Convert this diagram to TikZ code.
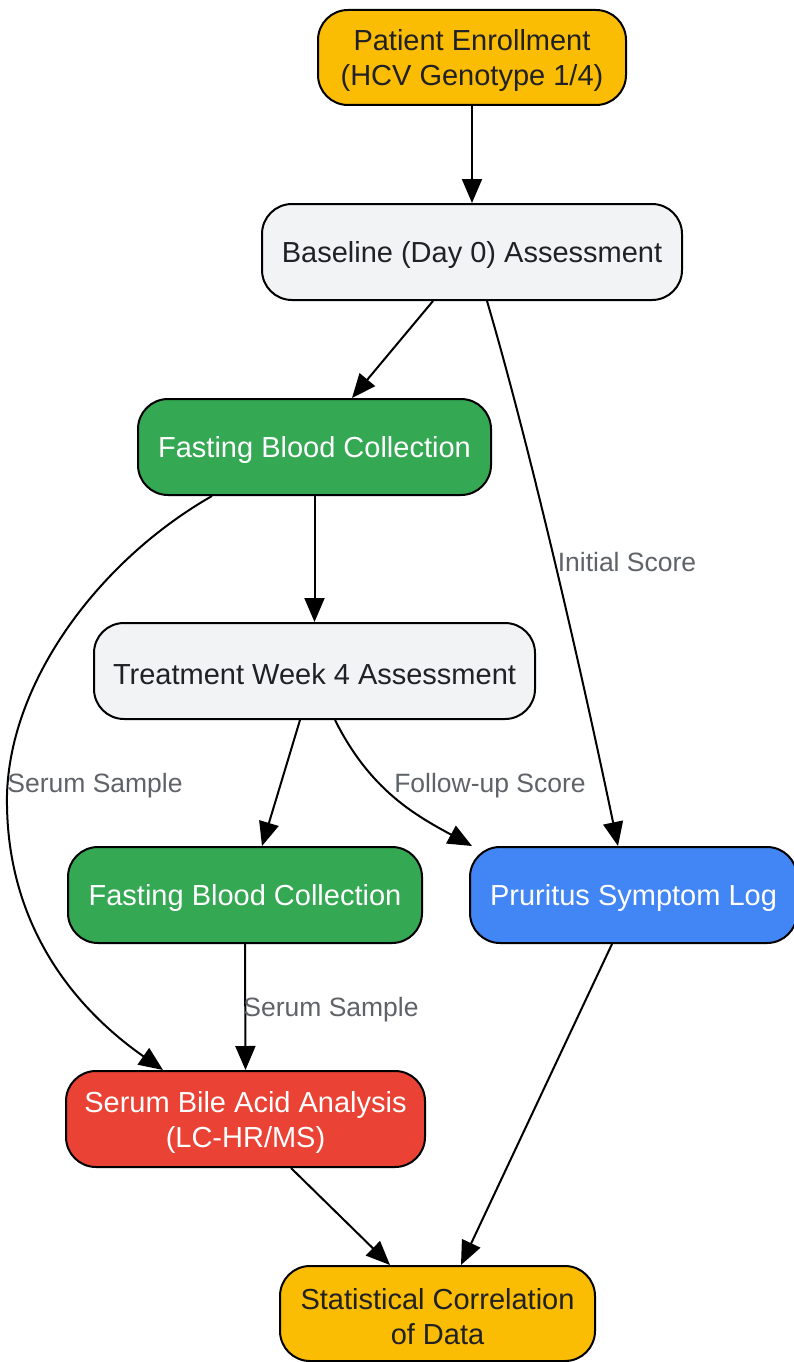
\documentclass[tikz,border=0pt]{standalone}
\usepackage{fontspec}
\setmainfont{Liberation Sans}
\usetikzlibrary{arrows.meta}
\definecolor{cyellow}{HTML}{FBBC04}
\definecolor{cgrey}{HTML}{F1F3F4}
\definecolor{cgreen}{HTML}{34A853}
\definecolor{cblue}{HTML}{4285F4}
\definecolor{cred}{HTML}{EA4335}
\definecolor{ctext}{HTML}{202124}
\definecolor{clabel}{HTML}{5F6368}
\tikzset{
  box/.style={draw=black, line width=2pt, rounded corners=30pt, minimum height=96pt, inner sep=0pt, align=center, font=\fontsize{29}{35}\selectfont},
  one/.style={execute at begin node={\rule{0pt}{27pt}}},
  two/.style={execute at begin node={\rule{0pt}{63pt}}},
  darkbox/.style={box, text=ctext},
  lightbox/.style={box, text=white},
  conn/.style={draw=black, line width=2pt, -{Triangle[length=24pt,width=20pt]}},
  lbl/.style={text=clabel, font=\fontsize{26.5}{32}\selectfont, inner sep=0pt}
}
\begin{document}
\begin{tikzpicture}[x=1pt,y=-1pt]
\useasboundingbox[fill=white] (0,0) rectangle (794,1362);
\node[darkbox, two, fill=cyellow, minimum width=308pt, minimum height=95pt] (enr) at (472,57.5) {Patient Enrollment\\(HCV Genotype 1/4)};
\node[darkbox, one, fill=cgrey, minimum width=420pt] (base) at (472,252) {Baseline (Day 0) Assessment};
\node[lightbox, one, fill=cgreen, minimum width=353pt] (fb1) at (314.5,447) {Fasting Blood Collection};
\node[darkbox, one, fill=cgrey, minimum width=441pt] (wk4) at (314.5,671) {Treatment Week 4 Assessment};
\node[lightbox, one, fill=cgreen, minimum width=354pt] (fb2) at (245,895) {Fasting Blood Collection};
\node[lightbox, one, fill=cblue, minimum width=327pt] (pr) at (633.5,895) {Pruritus Symptom Log};
\node[lightbox, two, fill=cred, minimum width=359pt] (sba) at (245.5,1119) {Serum Bile Acid Analysis\\(LC-HR/MS)};
\node[darkbox, two, fill=cyellow, minimum width=315pt, minimum height=95pt] (stat) at (437.5,1313.5) {Statistical Correlation\\of Data};

\draw[conn] (enr.south) -- (base.north);
\draw[conn] ([xshift=-39pt]base.south) -- ([xshift=37.5pt]fb1.north);
\draw[conn] ([xshift=15pt]base.south) .. controls (525,430) and (575,640) .. ([xshift=-15.5pt]pr.north);
\node[lbl] (l1) at (627,562) {Initial Score};
\draw[conn] (fb1.south) -- (wk4.north);
\coordinate (sw) at (7,795);
\draw[conn] ([xshift=-102.5pt]fb1.south) .. controls (100,560) and (10,680) .. (sw) .. controls (5,920) and (70,1005) .. ([xshift=-82.5pt]sba.north);
\node[lbl] (l2) at (95,786) {Serum Sample};
\draw[conn] ([xshift=-14.5pt]wk4.south) -- ([xshift=17pt]fb2.north);
\draw[conn] ([xshift=20.5pt]wk4.south) .. controls (370,790) and (415,815) .. ([xshift=3pt]pr.north west);
\node[lbl] (l3) at (490,786) {Follow-up Score};
\draw[conn] (fb2.south) -- (sba.north);
\node[lbl] (l4) at (331,1010) {Serum Sample};
\draw[conn] ([xshift=45.5pt]sba.south) -- ([xshift=-47.5pt]stat.north);
\draw[conn] ([xshift=-21.5pt]pr.south) -- ([xshift=23.5pt]stat.north);
\end{tikzpicture}
\end{document}
